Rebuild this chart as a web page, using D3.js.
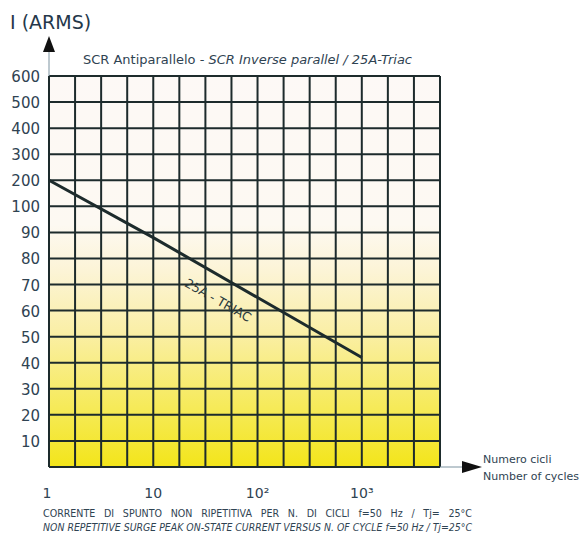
<!DOCTYPE html>
<html>
<head>
<meta charset="utf-8">
<script src="https://cdn.jsdelivr.net/npm/d3@7"></script>
<style>
  body { margin: 0; background: #fff; }
  svg { display: block; font-family: "DejaVu Sans", sans-serif; }
</style>
</head>
<body>
<script>
// data
var yTicks = [0, 10, 20, 30, 40, 50, 60, 70, 80, 90, 100, 200, 300, 400, 500, 600];
var xTicks = [1, 10, 100, 1000];
var xTickLabels = ["1", "10", "10²", "10³"];
var cycles = [1, 10, 100, 1000];
var current = [200, 88, 65, 42];

var width = 585, height = 535;
// plot box (note: "top" is taken by window.top)
var gLeft = 49, gRight = 440, gTop = 76, gBottom = 467;
var ink = "#1d2b2c", txt = "#2f4352";

var svg = d3.select("body").append("svg")
  .attr("width", width)
  .attr("height", height);

// log x: 15 quarter-decade columns
var x = d3.scaleLog()
  .domain([1, Math.pow(10, 3.75)])
  .range([gLeft, gRight]);

// piecewise y: every tick equally spaced
var step = (gBottom - gTop) / (yTicks.length - 1);
var y = d3.scaleLinear()
  .domain(yTicks)
  .range(yTicks.map(function(d, i) { return gBottom - i * step; }));

// background gradient
var grad = svg.append("defs").append("linearGradient")
  .attr("id", "bg").attr("x1", 0).attr("y1", 0).attr("x2", 0).attr("y2", 1);
grad.append("stop").attr("offset", "0").attr("stop-color", "#fdf9f6");
grad.append("stop").attr("offset", "0.38").attr("stop-color", "#fdf9f2");
grad.append("stop").attr("offset", "0.5").attr("stop-color", "#fcf4d6");
grad.append("stop").attr("offset", "0.65").attr("stop-color", "#faefa8");
grad.append("stop").attr("offset", "0.85").attr("stop-color", "#f6ea58");
grad.append("stop").attr("offset", "1").attr("stop-color", "#f3e51a");

svg.append("rect")
  .attr("x", gLeft).attr("y", gTop)
  .attr("width", gRight - gLeft).attr("height", gBottom - gTop)
  .attr("fill", "url(#bg)");

// grid
var cols = d3.range(16).map(function(i) { return Math.pow(10, i / 4); });
svg.append("g").selectAll("line")
  .data(cols)
  .enter().append("line")
  .attr("x1", function(d) { return x(d); })
  .attr("x2", function(d) { return x(d); })
  .attr("y1", gTop).attr("y2", gBottom)
  .attr("stroke", ink).attr("stroke-width", 2);

svg.append("g").selectAll("line")
  .data(yTicks)
  .enter().append("line")
  .attr("x1", gLeft).attr("x2", gRight)
  .attr("y1", function(d) { return y(d); })
  .attr("y2", function(d) { return y(d); })
  .attr("stroke", ink).attr("stroke-width", 2);

// y axis arrow
svg.append("line")
  .attr("x1", gLeft).attr("x2", gLeft).attr("y1", gTop).attr("y2", 50)
  .attr("stroke", "#7d93a0").attr("stroke-width", 1);
svg.append("path")
  .attr("d", "M" + gLeft + ",36 L" + (gLeft - 6) + ",52 L" + (gLeft + 6) + ",52 Z")
  .attr("fill", "#111");

// x axis arrow
svg.append("line")
  .attr("x1", gRight).attr("x2", 464).attr("y1", gBottom).attr("y2", gBottom)
  .attr("stroke", "#7d93a0").attr("stroke-width", 1);
svg.append("path")
  .attr("d", "M482," + gBottom + " L462," + (gBottom - 6) + " L462," + (gBottom + 6) + " Z")
  .attr("fill", "#111");

// y tick labels
svg.append("g").selectAll("text")
  .data(yTicks.slice(1))
  .enter().append("text")
  .attr("x", 40)
  .attr("y", function(d) { return y(d) + 6; })
  .attr("text-anchor", "end")
  .attr("font-size", 15)
  .attr("fill", txt)
  .text(function(d) { return d; });

// x tick labels
svg.append("g").selectAll("text")
  .data(xTicks)
  .enter().append("text")
  .attr("x", function(d, i) { return x(d) + (i == 0 ? -2 : 0); })
  .attr("y", 498)
  .attr("text-anchor", "middle")
  .attr("font-size", 14)
  .attr("fill", txt)
  .text(function(d, i) { return xTickLabels[i]; });

// curve
var line = d3.line()
  .x(function(d) { return x(d[0]); })
  .y(function(d) { return y(d[1]); });

svg.append("path")
  .datum(d3.zip(cycles, current))
  .attr("d", line)
  .attr("fill", "none")
  .attr("stroke", ink)
  .attr("stroke-width", 3);

// curve label
var ang = Math.atan2(y(current[3]) - y(current[0]), x(cycles[3]) - x(cycles[0])) * 180 / Math.PI;
svg.append("text")
  .attr("transform", "translate(216,304) rotate(" + ang + ")")
  .attr("text-anchor", "middle")
  .attr("font-size", 12.5)
  .attr("fill", "#2b3a3c")
  .text("25A - TRIAC");

// titles
svg.append("text")
  .attr("x", 10).attr("y", 29)
  .attr("font-size", 19)
  .attr("fill", "#24384a")
  .text("I (ARMS)");

var title = svg.append("text")
  .attr("x", 83).attr("y", 64)
  .attr("font-size", 11.5)
  .attr("fill", txt)
  .attr("textLength", 329)
  .attr("lengthAdjust", "spacingAndGlyphs");
title.append("tspan").text("SCR Antiparallelo - ");
title.append("tspan").attr("font-style", "italic").text("SCR Inverse parallel / 25A-Triac");

svg.append("text")
  .attr("x", 483).attr("y", 463)
  .attr("font-size", 11).attr("fill", txt)
  .text("Numero cicli");
svg.append("text")
  .attr("x", 483).attr("y", 480)
  .attr("font-size", 11).attr("fill", txt)
  .text("Number of cycles");

// footnotes
svg.append("text")
  .attr("x", 43).attr("y", 517)
  .attr("font-size", 10).attr("fill", txt)
  .attr("textLength", 429).attr("lengthAdjust", "spacingAndGlyphs")
  .attr("word-spacing", 6)
  .text("CORRENTE DI SPUNTO NON RIPETITIVA PER N. DI CICLI f=50 Hz / Tj= 25°C");
svg.append("text")
  .attr("x", 43).attr("y", 531)
  .attr("font-size", 10).attr("fill", txt)
  .attr("font-style", "italic")
  .attr("textLength", 429).attr("lengthAdjust", "spacingAndGlyphs")
  .text("NON REPETITIVE SURGE PEAK ON-STATE CURRENT VERSUS N. OF CYCLE f=50 Hz / Tj=25°C");
</script>
</body>
</html>
